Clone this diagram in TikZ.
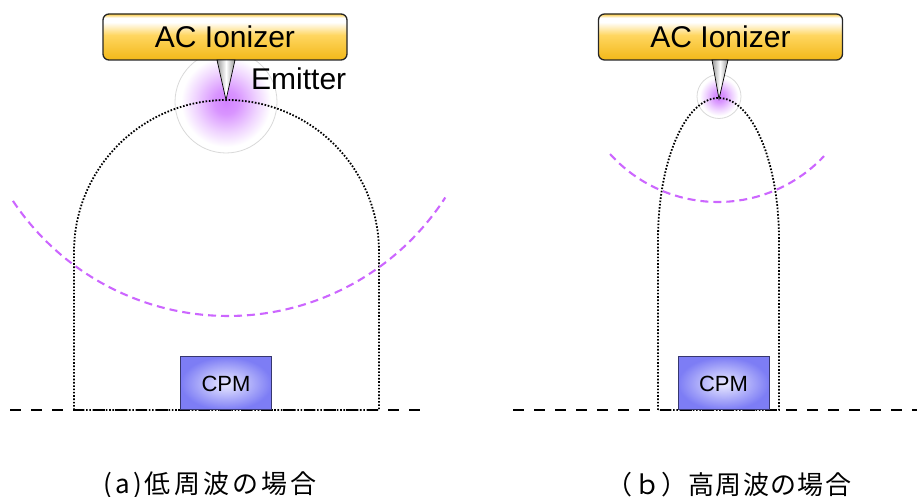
\documentclass[tikz,border=0pt]{standalone}
\usepackage{fontspec}
\newfontfamily\latfont{Liberation Sans}
\newfontfamily\jpfont[LetterSpace=12]{Noto Sans CJK JP}
\newfontfamily\jpfontnarrow[LetterSpace=5]{Noto Sans CJK JP}
\usetikzlibrary{calc}

\definecolor{goldbot}{RGB}{242,184,24}
\definecolor{goldmid}{RGB}{255,214,96}
\definecolor{goldtop}{RGB}{250,200,60}
\definecolor{glowc}{RGB}{210,130,255}
\definecolor{wavec}{RGB}{204,102,255}
\definecolor{cpmedge}{RGB}{125,125,245}
\definecolor{cpmline}{RGB}{55,55,110}

% gold bar of the ionizer housing
\pgfdeclareverticalshading{ionizershade}{100bp}{%
  color(0bp)=(goldbot); color(25bp)=(goldbot); color(52bp)=(goldmid);
  color(66bp)=(white); color(71bp)=(white); color(75bp)=(goldtop); color(100bp)=(goldtop)}
% ion cloud around the emitter tip
\pgfdeclareradialshading{glowshade}{\pgfpoint{0bp}{0bp}}{%
  color(0bp)=(glowc); color(6bp)=(glowc!85!white); color(15bp)=(glowc!35!white);
  color(22bp)=(white); color(50bp)=(white)}
% emitter needle
\pgfdeclarehorizontalshading{needleshade}{100bp}{%
  color(0bp)=(gray!80); color(25bp)=(gray!80); color(50bp)=(white);
  color(75bp)=(gray!80); color(100bp)=(gray!80)}

\tikzset{
  ionizer/.style={draw=black!85, line width=1.3pt, rounded corners=6pt,
    shading=ionizershade, minimum width=244pt, minimum height=46pt,
    font=\latfont\fontsize{30}{30}\selectfont, inner sep=0pt},
  cpmbox/.style={draw=cpmline, line width=1pt, inner color=white!92!blue,
    outer color=cpmedge, minimum width=91pt, minimum height=53pt,
    font=\latfont\fontsize{22}{22}\selectfont, inner sep=0pt},
  needle/.style={draw=black, line width=0.7pt, shading=needleshade},
  glow/.style={draw=black!15, line width=0.8pt, shading=glowshade},
  fieldline/.style={line width=1.8pt, dash pattern=on 1.6pt off 1.7pt, black},
  wave/.style={line width=2.1pt, wavec, dash pattern=on 8pt off 5pt},
  ground/.style={line width=2.9pt, black, dash pattern=on 11pt off 10pt},
  caption/.style={font=\jpfont\fontsize{26}{26}\selectfont, inner sep=0pt}
}

\begin{document}
\begin{tikzpicture}[x=1pt,y=1pt]
\useasboundingbox (0,0) rectangle (917,497);

% ---------- (a) low frequency ----------
\shade[glow] (226,395) circle[radius=51];
\draw[fieldline] (74,87) -- (74,245)
  arc[start angle=180, end angle=0, x radius=152.5, y radius=152] -- (379,87) -- cycle;
\draw[wave] (228,439.5) ++(213.7:258.5) arc[start angle=213.7, end angle=327.2, radius=258.5];
\coordinate (gA1) at (10,87);
\coordinate (gA2) at (425,87);
\draw[ground] (gA1) -- (gA2);
\node[cpmbox] (cpmA) at (226,113.5) {CPM};
\node[ionizer] (ionA) at (225,460) {AC Ionizer};
\coordinate (tipA) at (226,397);
\shade[needle] (217,437) -- (tipA) -- (235,437) -- cycle;
\node[font=\latfont\fontsize{30}{30}\selectfont, anchor=base west, inner sep=0pt] (emit) at (251,407) {Emitter};
\node[caption] (capA) at (210,12) {(a)低周波の場合};

% ---------- (b) high frequency ----------
\shade[glow] (719,400.5) circle[radius=22];
\draw[fieldline] (658,87) -- (658,257)
  arc[start angle=180, end angle=0, x radius=60.5, y radius=142] -- (779,87) -- cycle;
\draw[wave] (718,440.5) ++(222.1:145.5) arc[start angle=222.1, end angle=316.8, radius=145.5];
\coordinate (gB1) at (513,87);
\coordinate (gB2) at (917,87);
\draw[ground] (gB1) -- (gB2);
\node[cpmbox] (cpmB) at (723.5,113.5) {CPM};
\node[ionizer] (ionB) at (720.5,460) {AC Ionizer};
\coordinate (tipB) at (719,398);
\shade[needle] (712,437) -- (tipB) -- (728,437) -- cycle;
\node[caption, font=\jpfontnarrow\fontsize{26}{26}\selectfont] (capB) at (729,12) {（ｂ）高周波の場合};
\end{tikzpicture}
\end{document}
